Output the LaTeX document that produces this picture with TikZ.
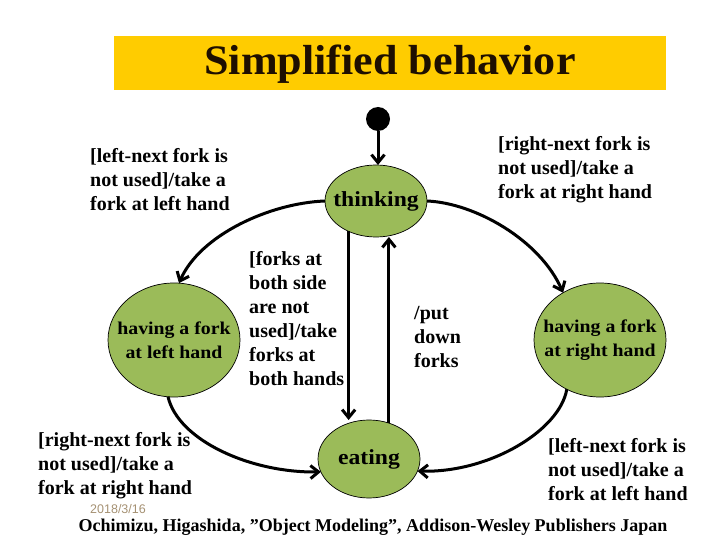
\documentclass[tikz,border=0pt]{standalone}
\usepackage{fontspec}
\setmainfont{Liberation Serif}
\newfontfamily\widefont[FakeStretch=1.1]{Liberation Serif}
\newfontfamily\titlefont[FakeStretch=1.05]{Liberation Serif}
\newfontfamily\datefont{Liberation Sans}
\usetikzlibrary{shapes.geometric,arrows.meta}
\definecolor{statefill}{RGB}{155,187,89}
\definecolor{banner}{RGB}{255,204,0}
\definecolor{titlecol}{RGB}{30,15,0}
\definecolor{datecol}{RGB}{165,145,115}
\begin{document}
\begin{tikzpicture}[x=1pt,y=-1pt,
  state/.style={ellipse,draw=black,line width=0.7pt,fill=statefill,inner sep=0pt,outer sep=0pt},
  stext/.style={inner sep=0pt,font=\widefont\bfseries\fontsize{18}{24}\selectfont,align=center},
  bigstext/.style={stext,font=\widefont\bfseries\fontsize{21.5}{24}\selectfont},
  conn/.style={line width=3pt,-{Straight Barb[length=8pt,width=13pt]}},
  lbl/.style={font=\bfseries\fontsize{20}{24}\selectfont,align=left,inner sep=0pt,anchor=base west}]
\useasboundingbox (0,0) rectangle (720,540);
\fill[banner] (114,36) rectangle (666,90);
\node[font=\titlefont\bfseries\fontsize{42}{50}\selectfont,text=titlecol,inner sep=0pt] (title) at (390,64) {Simplified behavior};
% states
\node[circle,fill=black,minimum size=24pt,inner sep=0pt] (init) at (378,119) {};
\node[state,minimum width=102pt,minimum height=72pt] (think) at (376,201) {};
\node[bigstext] (thinkt) at (think.center) {thinking};
\node[state,minimum width=132pt,minimum height=114pt] (hl) at (174,340) {};
\node[stext] (hlt) at (hl.center) {having a fork\\at left hand};
\node[state,minimum width=132pt,minimum height=114pt] (hr) at (600,340) {};
\node[stext] (hrt) at (hr.center) {having a fork\\at right hand};
\node[state,minimum width=102pt,minimum height=78pt] (eat) at (369,459) {};
\node[bigstext] (eatt) at (eat.center) {eating};
% connectors
\draw[conn] (init) -- (init |- think.north);
\draw[conn] (think.west) .. controls (270,203) and (200,235) .. (hl.85);
\draw[conn] (think.east) .. controls (475,203) and (540,240) .. (hr.128);
\draw[conn] (hl.264) .. controls (178,440) and (250,473) .. (eat.195);
\draw[conn] (hr.236) .. controls (560,430) and (490,473) .. (eat.346);
\draw[conn] (think.228) -- (think.228 |- eat.north);
\draw[conn] (eat.61) -- (eat.61 |- think.south);
% labels (anchor = baseline of last line)
\node[lbl] (l1) at (90,211) {[left-next fork is\\not used]/take a\\fork at left hand};
\node[lbl] (l2) at (498,199) {[right-next fork is\\not used]/take a\\fork at right hand};
\node[lbl] (l3) at (249,385) {[forks at\\both side\\are not\\used]/take\\forks at\\both hands};
\node[lbl] (l4) at (414,367) {/put\\down\\forks};
\node[lbl] (l5) at (38,494) {[right-next fork is\\not used]/take a\\fork at right hand};
\node[lbl] (l6) at (548,500) {[left-next fork is\\not used]/take a\\fork at left hand};
\node[font=\datefont\fontsize{12.5}{14}\selectfont,text=datecol,inner sep=0pt,anchor=base west] (date) at (90,513) {2018/3/16};
\node[font=\bfseries\fontsize{18}{20}\selectfont,inner sep=0pt] (cite) at (373,527) {Ochimizu, Higashida, ”Object Modeling”, Addison-Wesley Publishers Japan};
\end{tikzpicture}
\end{document}
